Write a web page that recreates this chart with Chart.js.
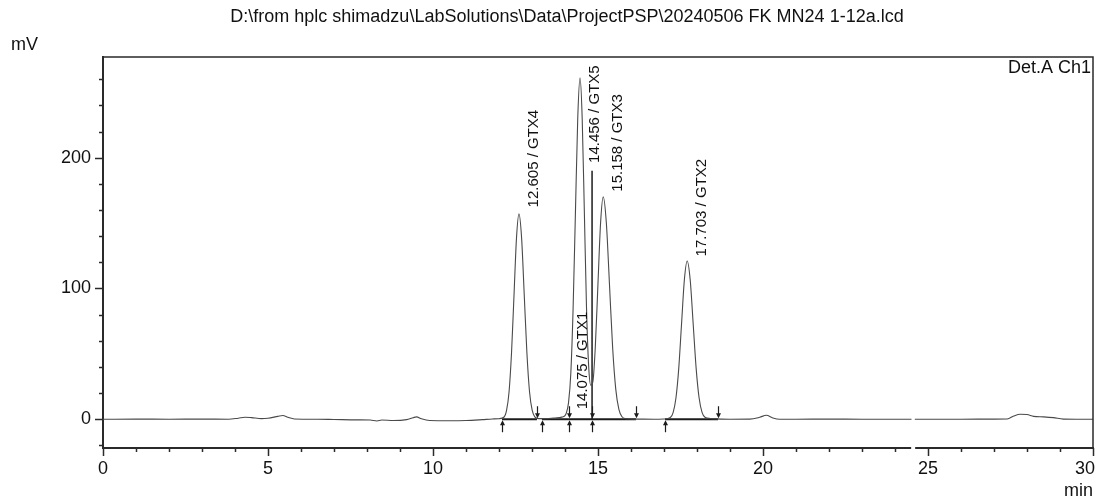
<!DOCTYPE html>
<html>
<head>
<meta charset="utf-8">
<script src="https://cdn.jsdelivr.net/npm/chart.js@4.4.1/dist/chart.umd.min.js"></script>
<style>
  html, body { margin: 0; padding: 0; background: #fff; }
  #wrap { position: relative; width: 1096px; height: 501px; }
</style>
</head>
<body>
<div id="wrap"><canvas id="chrom"></canvas></div>
<script>
"use strict";

// Chromatogram trace: retention time (min) and signal (mV).
// null marks the break in the recorder trace near 24.5 min.
const traceTime = [
  0, 1, 2, 3, 3.8, 4.1, 4.3, 4.5, 4.8, 5.0, 5.3, 5.45, 5.6, 5.8, 6.5, 7.0, 7.7, 8.1, 8.3, 8.45,
  8.8, 9.2, 9.4, 9.5, 9.65, 9.9, 10.5, 11.0, 11.5, 11.8, 12.0,
  12.155, 12.23, 12.305, 12.38, 12.455, 12.53, 12.605, 12.685, 12.765, 12.845, 12.925, 13.005, 13.085,
  13.2, 13.4, 13.7, 13.9, 14.0,
  14.036, 14.106, 14.176, 14.246, 14.316, 14.386, 14.456, 14.521, 14.586, 14.651, 14.716, 14.781, 14.846,
  14.918, 14.998, 15.078, 15.158, 15.253, 15.348, 15.443, 15.538, 15.633, 15.728, 15.85,
  16.2, 16.7, 17.0,
  17.193, 17.278, 17.363, 17.448, 17.533, 17.618, 17.703, 17.793, 17.883, 17.973, 18.063, 18.153, 18.243,
  18.4, 18.6, 19.0, 19.6, 19.9, 20.1, 20.3, 20.5, 21, 22, 23, 24, 24.5, 24.55, 24.6, 25, 26, 27,
  27.4, 27.6, 27.8, 28.0, 28.2, 28.5, 28.8, 29.1, 29.5, 30
];
const traceMv = [
  0, 0.1, 0, 0.1, 0, 0.8, 1.5, 1.2, 0.5, 0.8, 2.2, 2.8, 1.5, 0.2, 0, -0.2, -0.5, -0.6, -1.3, -0.6,
  -1.0, -0.3, 1.2, 1.8, 0.3, -1.0, -1.2, -1.0, -0.3, 0.2, 0.4,
  1.7, 6.9, 21, 51, 95, 138.5, 157, 138.5, 95, 51, 21, 6.9, 1.8,
  0.5, 0.5, 1.0, 1.6, 2.8,
  4.5, 12.5, 35, 85, 158, 230, 261, 230, 159, 86, 41, 26, 29,
  55, 103, 150, 170, 150, 103, 55, 23, 7.5, 1.9, 0.4,
  0.1, 0, 0.2,
  1.3, 5.3, 16.4, 39.3, 73.4, 106.8, 121, 106.8, 73.4, 39.3, 16.4, 5.3, 1.5,
  0.6, 0.3, 0, 0.1, 1.5, 3, 1.0, 0, 0, 0.1, 0, 0, 0, null, 0, 0, 0, 0.1,
  0.2, 2.5, 3.8, 3.6, 2.2, 1.8, 1.2, 0.1, 0, 0
];

// identified peaks
const peakTime = [12.605, 14.075, 14.456, 15.158, 17.703];
const peakName = ["GTX4", "GTX1", "GTX5", "GTX3", "GTX2"];
const labelMv  = [162, 7.6, 196, 174, 124.5];   // where each rotated label starts

// integration baselines and start/stop markers
const segStart   = [12.09, 13.30, 14.12, 14.82, 17.03];
const segEnd     = [13.15, 14.12, 14.82, 16.15, 18.64];
const upArrows   = [12.09, 13.30, 14.12, 14.82, 17.03];
const downArrows = [13.15, 14.12, 14.82, 16.15, 18.64];

// perpendicular drop line between GTX5 and GTX3
const dropTime = [14.82, 14.82];
const dropMv   = [0, 190];

const xTicks = [0, 5, 10, 15, 20, 25, 30];
const yTicks = [0, 100, 200];
const gapTime = 24.55;

const X_MIN = 0, X_MAX = 30, Y_MIN = -22, Y_MAX = 277;
const FONT = '"Liberation Sans", Arial, sans-serif';
const INK = "#1c1c1c";

const pts = (xs, ys) => xs.map((x, i) => ({ x, y: ys[i] }));

const datasets = [
  {
    label: "Det.A Ch1",
    data: pts(traceTime, traceMv),
    borderColor: "#4a4a4a",
    borderWidth: 1.1,
    pointRadius: 0,
    cubicInterpolationMode: "monotone",
    spanGaps: false,
  },
  {
    label: "drop",
    data: pts(dropTime, dropMv),
    borderColor: INK,
    borderWidth: 1.5,
    pointRadius: 0,
  },
];
segStart.forEach((s, i) => {
  datasets.push({
    label: "base" + i,
    data: [{ x: s, y: 0 }, { x: segEnd[i], y: 0 }],
    borderColor: INK,
    borderWidth: 2,
    pointRadius: 0,
  });
});

// --------------------------------------------------------------------- //
// Decorations: frame, tick marks, arrows, peak labels, captions         //
// --------------------------------------------------------------------- //

const decor = {
  id: "decor",
  afterDatasetsDraw(chart) {
    const { ctx, scales: { x, y } } = chart;
    const y0 = y.getPixelForValue(0);

    // integration markers
    ctx.save();
    ctx.strokeStyle = INK;
    ctx.fillStyle = INK;
    ctx.lineWidth = 1.2;
    upArrows.forEach((t) => {
      const px = Math.round(x.getPixelForValue(t)) + 0.5;
      ctx.beginPath(); ctx.moveTo(px, y0 + 13); ctx.lineTo(px, y0 + 3); ctx.stroke();
      ctx.beginPath(); ctx.moveTo(px, y0 + 1); ctx.lineTo(px - 2.5, y0 + 6); ctx.lineTo(px + 2.5, y0 + 6); ctx.fill();
    });
    downArrows.forEach((t) => {
      const px = Math.round(x.getPixelForValue(t)) + 0.5;
      ctx.beginPath(); ctx.moveTo(px, y0 - 13); ctx.lineTo(px, y0 - 3); ctx.stroke();
      ctx.beginPath(); ctx.moveTo(px, y0 - 1); ctx.lineTo(px - 2.5, y0 - 6); ctx.lineTo(px + 2.5, y0 - 6); ctx.fill();
    });

    // peak labels, rotated
    ctx.fillStyle = "#111";
    ctx.font = "15px " + FONT;
    ctx.textAlign = "left";
    ctx.textBaseline = "middle";
    peakTime.forEach((t, i) => {
      ctx.save();
      ctx.translate(x.getPixelForValue(t) + 15, y.getPixelForValue(labelMv[i]));
      ctx.rotate(-Math.PI / 2);
      ctx.fillText(t.toFixed(3) + " / " + peakName[i], 0, 0);
      ctx.restore();
    });
    ctx.restore();
  },
  afterDraw(chart) {
    const { ctx, chartArea: a, scales: { x, y } } = chart;
    ctx.save();
    ctx.strokeStyle = "#2a2a2a";

    // frame top / right
    ctx.lineWidth = 1.5;
    ctx.beginPath();
    ctx.moveTo(a.left, a.top); ctx.lineTo(a.right, a.top); ctx.lineTo(a.right, a.bottom);
    ctx.stroke();

    // y tick marks every 20 mV, long ones every 100
    for (let v = -20; v <= Y_MAX; v += 20) {
      const py = Math.round(y.getPixelForValue(v)) + 0.5;
      const len = v % 100 === 0 ? 8 : 4;
      ctx.beginPath(); ctx.moveTo(a.left - len, py); ctx.lineTo(a.left, py); ctx.stroke();
    }
    // x tick marks every minute, long ones every 5
    for (let v = X_MIN; v <= X_MAX; v += 1) {
      const px = Math.round(x.getPixelForValue(v)) + 0.5;
      const len = v % 5 === 0 ? 8 : 4;
      ctx.beginPath(); ctx.moveTo(px, a.bottom); ctx.lineTo(px, a.bottom + len); ctx.stroke();
    }

    // break in the time axis
    const gx = x.getPixelForValue(gapTime);
    ctx.fillStyle = "#fff";
    ctx.fillRect(gx - 2, a.bottom - 2, 4, 5);

    // time labels, last one pulled inside the page like the printout
    ctx.fillStyle = "#111";
    ctx.font = "18px " + FONT;
    ctx.textBaseline = "middle";
    ctx.textAlign = "center";
    xTicks.forEach((v) => {
      const s = String(v);
      const w = ctx.measureText(s).width;
      const px = Math.min(x.getPixelForValue(v), chart.width - 1 - w / 2);
      ctx.fillText(s, px, a.bottom + 21);
    });

    // captions
    ctx.fillText("D:\\from hplc shimadzu\\LabSolutions\\Data\\ProjectPSP\\20240506 FK MN24 1-12a.lcd", 567, 17);
    ctx.textAlign = "left";
    ctx.fillText("mV", 11, 45);
    ctx.textAlign = "right";
    ctx.fillText("min", a.right, 491);
    ctx.fillText("Det.A Ch1", a.right - 2, 68);
    ctx.restore();
  },
};

new Chart(document.getElementById("chrom"), {
  type: "line",
  data: { datasets },
  options: {
    responsive: true,
    maintainAspectRatio: false,
    animation: false,
    events: [],
    layout: { padding: { top: 57, right: 3, left: 0, bottom: 0 } },
    plugins: { legend: { display: false }, tooltip: { enabled: false }, title: { display: false } },
    scales: {
      x: {
        type: "linear",
        min: X_MIN,
        max: X_MAX,
        afterBuildTicks: (s) => { s.ticks = xTicks.map((v) => ({ value: v })); },
        afterFit: (s) => { s.height = 53; s.paddingLeft = 0; s.paddingRight = 0; },
        grid: { display: false, drawTicks: false },
        border: { display: true, color: "#2a2a2a", width: 2 },
        ticks: { display: false },
      },
      y: {
        type: "linear",
        min: Y_MIN,
        max: Y_MAX,
        afterBuildTicks: (s) => { s.ticks = yTicks.map((v) => ({ value: v })); },
        afterFit: (s) => { s.width = 103; s.paddingTop = 0; s.paddingBottom = 0; },
        grid: { display: false, drawTicks: false },
        border: { display: true, color: "#2a2a2a", width: 2 },
        ticks: { color: "#111", font: { family: FONT, size: 18 }, padding: 12 },
      },
    },
  },
  plugins: [decor],
});
</script>
</body>
</html>
